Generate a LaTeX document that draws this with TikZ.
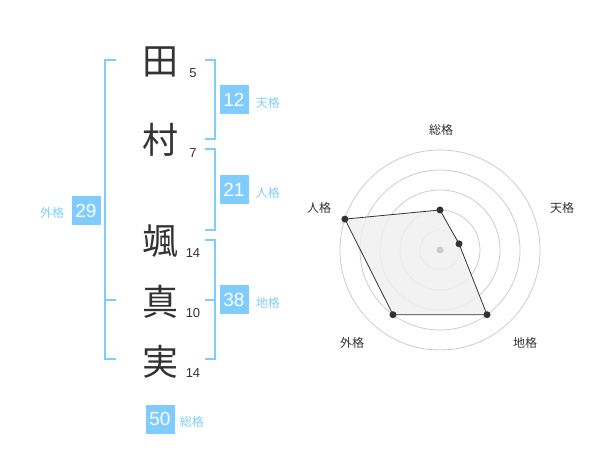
\documentclass[tikz,border=0pt]{standalone}
\usepackage{fontspec}
\setmainfont{Liberation Sans}
\newfontfamily\jp{Noto Sans CJK JP}
\usetikzlibrary{calc}
\definecolor{kblue}{HTML}{80CCFF}
\definecolor{ktext}{HTML}{333333}
\definecolor{kring}{HTML}{CCCCCC}
\definecolor{kfill}{HTML}{F0F0F0}
\tikzset{
  kanji/.style={inner sep=0pt, text=ktext, font=\jp\fontsize{36}{36}\selectfont},
  strokenum/.style={inner sep=0pt, text=ktext, font=\fontsize{13}{13}\selectfont},
  numbox/.style={fill=kblue, text=white, minimum width=29pt, minimum height=29pt, inner sep=0pt, font=\fontsize{19}{19}\selectfont},
  kaku/.style={inner sep=0pt, text=kblue, font=\jp\fontsize{12}{12}\selectfont},
  bracket/.style={draw=kblue, line width=2pt},
  ring/.style={draw=kring, line width=0.8pt},
  axislabel/.style={inner sep=0pt, text=ktext, font=\jp\fontsize{12}{12}\selectfont},
  dot/.style={circle, fill=ktext, inner sep=0pt, minimum size=7pt},
}
\begin{document}
\begin{tikzpicture}[x=1pt,y=-1pt]
\useasboundingbox (0,0) rectangle (600,470);
% characters
\node[kanji] (c1) at (160,62) {田};
\node[kanji] (c2) at (160,140) {村};
\node[kanji] (c3) at (160,241) {颯};
\node[kanji] (c4) at (160,302) {真};
\node[kanji] (c5) at (160,362) {実};
% stroke counts
\node[strokenum] (s1) at (193,73) {5};
\node[strokenum] (s2) at (193,153) {7};
\node[strokenum] (s3) at (193,253) {14};
\node[strokenum] (s4) at (193,313) {10};
\node[strokenum] (s5) at (193,373) {14};
% brackets
\draw[bracket] (205,60) -- (215,60) -- (215,139) -- (205,139);
\draw[bracket] (205,149) -- (215,149) -- (215,230) -- (205,230);
\draw[bracket] (205,240) -- (215,240) -- (215,359) -- (205,359);
\draw[bracket] (205,300) -- (215,300);
\draw[bracket] (116,60) -- (105,60) -- (105,359) -- (116,359);
\draw[bracket] (105,300) -- (116,300);
% boxes and labels
\node[numbox] (b12) at (234,100) {12};
\node[kaku, anchor=west] (l12) at ([xshift=7pt,yshift=-3pt]b12.east) {天格};
\node[numbox] (b21) at (234,190) {21};
\node[kaku, anchor=west] (l21) at ([xshift=7pt,yshift=-3pt]b21.east) {人格};
\node[numbox] (b38) at (234,300) {38};
\node[kaku, anchor=west] (l38) at ([xshift=7pt,yshift=-3pt]b38.east) {地格};
\node[numbox] (b29) at (86,211) {29};
\node[kaku, anchor=east] (l29) at ([xshift=-7pt,yshift=-2pt]b29.west) {外格};
\node[numbox] (b50) at (160,419) {50};
\node[kaku, anchor=west] (l50) at ([xshift=5pt,yshift=-3pt]b50.east) {総格};
% radar
\coordinate (o) at (440,250);
\foreach \r in {20,40,60,80,100} \draw[ring] (o) circle[radius=\r];
\coordinate (psou) at ($(o)+(-90:40)$);
\coordinate (pten) at ($(o)+(-18:20)$);
\coordinate (pchi) at ($(o)+(54:80)$);
\coordinate (pgai) at ($(o)+(126:80)$);
\coordinate (pjin) at ($(o)+(-162:100)$);
\draw[fill=kfill, fill opacity=0.85, draw=ktext, line width=0.8pt] (psou) -- (pten) -- (pchi) -- (pgai) -- (pjin) -- cycle;
\node[circle, fill=kring, inner sep=0pt, minimum size=7pt] (ctr) at (o) {};
\foreach \p in {psou,pten,pchi,pgai,pjin} \node[dot] at (\p) {};
\node[axislabel] (asou) at (441,130) {総格};
\node[axislabel] (aten) at (562,208) {天格};
\node[axislabel] (ajin) at (319,208) {人格};
\node[axislabel] (agai) at (352,343) {外格};
\node[axislabel] (achi) at (525,343) {地格};
\end{tikzpicture}
\end{document}
